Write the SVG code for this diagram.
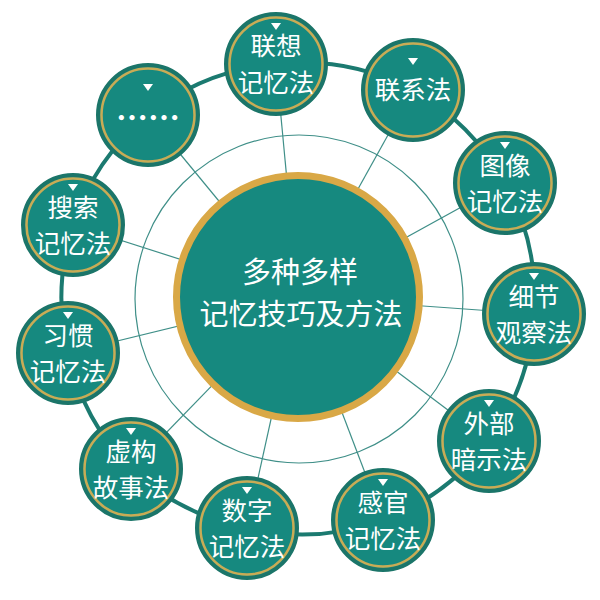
<svg xmlns="http://www.w3.org/2000/svg" width="600" height="600" viewBox="0 0 600 600">
<style>
.ring{fill:none;stroke:#1b7a70;stroke-width:4}
.thin{fill:none;stroke:#3f8f88;stroke-width:1.2}
.sat{fill:#16897f;stroke:#1b7569;stroke-width:4}
.gold{fill:none;stroke:#c9ab55;stroke-width:2.5}
.t{font-family:"Noto Sans CJK SC","Noto Sans",sans-serif;font-size:25.5px;fill:#ffffff;text-anchor:middle}
.ct{font-family:"Noto Sans CJK SC","Noto Sans",sans-serif;font-size:29px;fill:#ffffff;text-anchor:middle}
.dots{font-family:"Noto Sans CJK SC","Noto Sans",sans-serif;font-size:32px;font-weight:bold;fill:#ffffff;text-anchor:middle}
.tri{fill:#ffffff}
</style>
<defs>
<g id="base">
<circle class="sat" r="50"/>
<circle class="gold" r="46.5"/>
</g>
</defs>
<rect width="600" height="600" fill="#ffffff"/>
<g id="connectors">
<circle class="thin" cx="299" cy="299" r="164"/>
<line class="thin" x1="298" y1="297" x2="276" y2="64"/>
<line class="thin" x1="298" y1="297" x2="413" y2="90"/>
<line class="thin" x1="298" y1="297" x2="505" y2="183"/>
<line class="thin" x1="298" y1="297" x2="534" y2="314"/>
<line class="thin" x1="298" y1="297" x2="489" y2="441"/>
<line class="thin" x1="298" y1="297" x2="383" y2="520"/>
<line class="thin" x1="298" y1="297" x2="247" y2="528"/>
<line class="thin" x1="298" y1="297" x2="131" y2="469"/>
<line class="thin" x1="298" y1="297" x2="68" y2="353"/>
<line class="thin" x1="298" y1="297" x2="73" y2="225"/>
<line class="thin" x1="298" y1="297" x2="148" y2="115"/>
<path class="ring" d="M276 64 A237 237 0 0 1 413 90 A237 237 0 0 1 505 183 A237 237 0 0 1 534 314 A237 237 0 0 1 489 441 A237 237 0 0 1 383 520 A237 237 0 0 1 247 528 A237 237 0 0 1 131 469 A237 237 0 0 1 68 353 A237 237 0 0 1 73 225 A237 237 0 0 1 148 115 A237 237 0 0 1 276 64 Z"/>
</g>
<g id="center">
<circle cx="298" cy="297" r="121.5" fill="#16897f" stroke="#d9a846" stroke-width="7"/>
<text class="ct" x="300" y="283">多种多样</text>
<text class="ct" x="301" y="325">记忆技巧及方法</text>
</g>
<g id="n1" transform="translate(276,64)">
<use href="#base"/><path class="tri" d="M-5 -41 L5 -41 L0 -34 Z"/>
<text class="t" y="-9">联想</text><text class="t" y="28">记忆法</text>
</g>
<g id="n2" transform="translate(413,90)">
<use href="#base"/><path class="tri" d="M-5 -32 L5 -32 L0 -25 Z"/>
<text class="t" y="9">联系法</text>
</g>
<g id="n3" transform="translate(505,183)">
<use href="#base"/><path class="tri" d="M-5 -41 L5 -41 L0 -34 Z"/>
<text class="t" y="-8">图像</text><text class="t" y="28">记忆法</text>
</g>
<g id="n4" transform="translate(534,314)">
<use href="#base"/><path class="tri" d="M-5 -41 L5 -41 L0 -34 Z"/>
<text class="t" y="-8">细节</text><text class="t" y="28">观察法</text>
</g>
<g id="n5" transform="translate(489,441)">
<use href="#base"/><path class="tri" d="M-5 -41 L5 -41 L0 -34 Z"/>
<text class="t" y="-8">外部</text><text class="t" y="28">暗示法</text>
</g>
<g id="n6" transform="translate(383,520)">
<use href="#base"/><path class="tri" d="M-5 -41 L5 -41 L0 -34 Z"/>
<text class="t" y="-8">感官</text><text class="t" y="28">记忆法</text>
</g>
<g id="n7" transform="translate(247,528)">
<use href="#base"/><path class="tri" d="M-5 -41 L5 -41 L0 -34 Z"/>
<text class="t" y="-8">数字</text><text class="t" y="28">记忆法</text>
</g>
<g id="n8" transform="translate(131,469)">
<use href="#base"/><path class="tri" d="M-5 -41 L5 -41 L0 -34 Z"/>
<text class="t" y="-8">虚构</text><text class="t" y="28">故事法</text>
</g>
<g id="n9" transform="translate(68,353)">
<use href="#base"/><path class="tri" d="M-5 -41 L5 -41 L0 -34 Z"/>
<text class="t" y="-8">习惯</text><text class="t" y="28">记忆法</text>
</g>
<g id="n10" transform="translate(73,225)">
<use href="#base"/><path class="tri" d="M-5 -41 L5 -41 L0 -34 Z"/>
<text class="t" y="-8">搜索</text><text class="t" y="28">记忆法</text>
</g>
<g id="n11" transform="translate(148,115)">
<use href="#base"/><path class="tri" d="M-5 -31 L5 -31 L0 -24 Z"/>
<text class="dots" y="15">……</text>
</g>
</svg>
